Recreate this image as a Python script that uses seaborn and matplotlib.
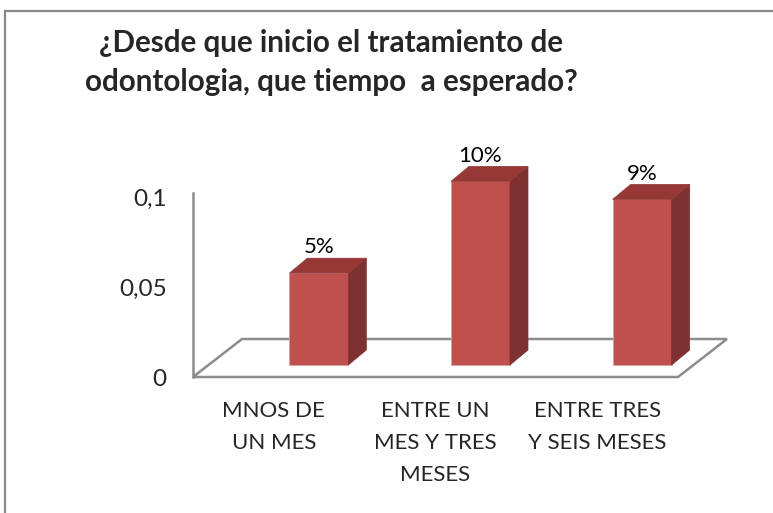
import matplotlib
matplotlib.use("Agg")
import matplotlib.pyplot as plt
import seaborn as sns
from matplotlib.patches import Polygon, Rectangle

categories = ["MNOS DE UN MES", "ENTRE UN MES Y TRES MESES", "ENTRE TRES Y SEIS MESES"]
tick_labels = ["MNOS DE\nUN MES", "ENTRE UN\nMES Y TRES\nMESES", "ENTRE TRES\nY SEIS MESES"]
values = [0.051, 0.102, 0.092]
y_ticks = [0, 0.05, 0.1]
y_tick_labels = ["0", "0,05", "0,1"]
title = "¿Desde que inicio el tratamiento de\nodontologia, que tiempo  a esperado?"

W, H = 773, 513
FRONT, SIDE, TOP = "#C0504D", "#7D3130", "#953836"
GRID = "#8c8c8c"

sns.set_theme(style="white")
plt.rcParams["font.family"] = ["Lato", "DejaVu Sans"]

fig = plt.figure(figsize=(W / 100, H / 100), dpi=100)
fig.patch.set_facecolor("white")

# plot area in pixels (front plane of the floor)
ax_l, ax_r, ax_b, ax_t = 193, 678, 377, 193
ymax = 0.1022
ax = fig.add_axes([ax_l / W, 1 - ax_b / H, (ax_r - ax_l) / W, (ax_b - ax_t) / H])
ax.set_facecolor("none")

ppx = 3 / (ax_r - ax_l)
ppy = ymax / (ax_b - ax_t)

sns.barplot(x=categories, y=values, color=FRONT, saturation=1, width=59 * ppx,
            ax=ax, zorder=3, edgecolor="#d8a09e", linewidth=0.6)
ax.set_xlim(-0.5, 2.5)
ax.set_ylim(0, ymax)

# floor of the 3d box
fdx, fdy = 49 * ppx, 38 * ppy
floor = Polygon([(-0.5, 0), (2.5, 0), (2.5 + fdx, fdy), (-0.5 + fdx, fdy)], closed=True,
                facecolor="white", edgecolor=GRID, linewidth=1.8, clip_on=False, zorder=1)
ax.add_patch(floor)

# push bars back into the box and give them depth
off_x, off_y = 45 * ppx, 12 * ppy
bdx, bdy = 18 * ppx, 15 * ppy
for p, v in zip(ax.patches[:len(values)], values):
    p.set_x(p.get_x() + off_x)
    p.set_y(off_y)
    p.set_clip_on(False)
    x0, x1 = p.get_x(), p.get_x() + p.get_width()
    y0, y1 = off_y, off_y + v
    ax.add_patch(Polygon([(x1, y0), (x1 + bdx, y0 + bdy), (x1 + bdx, y1 + bdy), (x1, y1)],
                         facecolor=SIDE, edgecolor=SIDE, linewidth=0.5, clip_on=False, zorder=3))
    ax.add_patch(Polygon([(x0, y1), (x1, y1), (x1 + bdx, y1 + bdy), (x0 + bdx, y1 + bdy)],
                         facecolor=TOP, edgecolor=TOP, linewidth=0.5, clip_on=False, zorder=3))
    ax.annotate(f"{v:.0%}", ((x0 + x1) / 2, y1), xytext=(0, 18.5), textcoords="offset points",
                ha="center", va="center", fontsize=16, color="black", annotation_clip=False)

for s in ["top", "right", "bottom"]:
    ax.spines[s].set_visible(False)
ax.spines["left"].set_color(GRID)
ax.spines["left"].set_linewidth(1.8)
ax.spines["left"].set_zorder(2)

ax.set_yticks(y_ticks)
ax.set_yticklabels(y_tick_labels, fontsize=17.5)
ax.set_xticks(range(len(tick_labels)))
ax.set_xticklabels(tick_labels, fontsize=16, linespacing=1.76)
ax.tick_params(axis="y", length=0, pad=19)
ax.tick_params(axis="x", length=0, pad=17)
ax.set_xlabel("")
ax.set_ylabel("")

fig.text(331 / W, 1 - 62.5 / H, title, ha="center", va="center", fontsize=21.3,
         fontweight="bold", linespacing=1.5)

# chart area border (only top and left are inside the picture)
fig.add_artist(Rectangle((5 / W, -0.2), 1.5, 1.2 - 11 / H, transform=fig.transFigure,
                         fill=False, edgecolor="#888888", linewidth=1.6))

fig.savefig("out.png", dpi=100)
